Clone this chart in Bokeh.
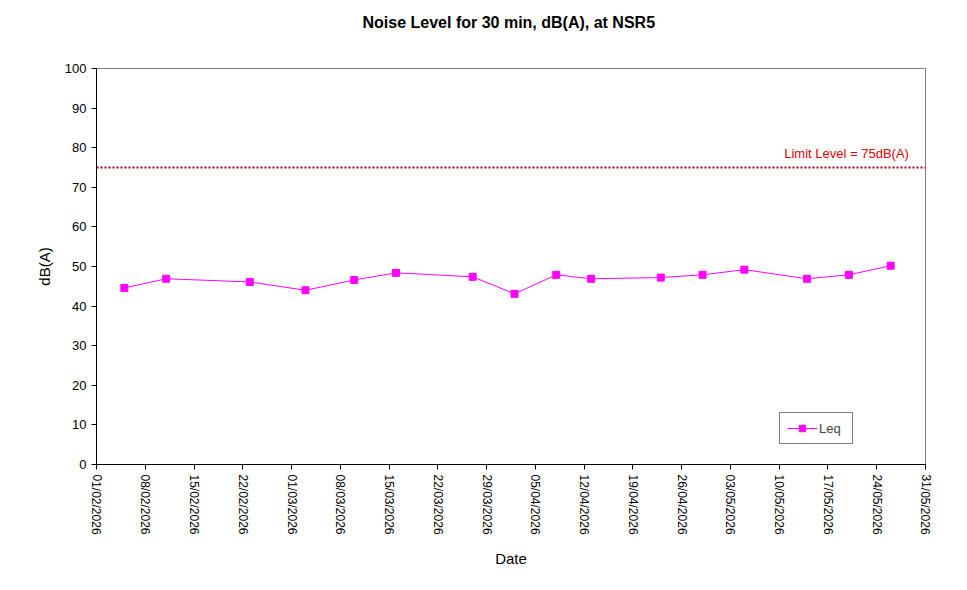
import datetime as dt
from bokeh.plotting import figure
from bokeh.models import (FixedTicker, DatetimeTickFormatter, Span, Label,
                          Legend, LegendItem, Range1d, Title)
from bokeh.embed import file_html
from bokeh.resources import INLINE

# ---- data ----
dates = ["2026-02-05", "2026-02-11", "2026-02-23", "2026-03-03", "2026-03-10",
         "2026-03-16", "2026-03-27", "2026-04-02", "2026-04-08", "2026-04-13",
         "2026-04-23", "2026-04-29", "2026-05-05", "2026-05-14", "2026-05-20",
         "2026-05-26"]
leq = [44.6, 46.9, 46.1, 44.0, 46.6, 48.4, 47.4, 43.1, 47.9, 46.9,
       47.2, 47.9, 49.2, 46.9, 47.9, 50.2]
limit_level = 75
x_start = "2026-02-01"
x_end = "2026-05-31"
tick_step_days = 7
y_ticks = [0, 10, 20, 30, 40, 50, 60, 70, 80, 90, 100]
title_text = "Noise Level for 30 min,  dB(A), at NSR5"

FONT = "Liberation Sans"

def to_dt(s):
    return dt.datetime.strptime(s, "%Y-%m-%d")

xs = [to_dt(d) for d in dates]
x0, x1 = to_dt(x_start), to_dt(x_end)
epoch = dt.datetime(1970, 1, 1)
def ms(d):
    return (d - epoch).total_seconds() * 1000.0

tick_ms = []
d = x0
while d <= x1:
    tick_ms.append(ms(d))
    d += dt.timedelta(days=tick_step_days)

FW, FH = 829, 396
p = figure(width=959, height=582, x_axis_type="datetime",
           output_backend="svg", toolbar_location=None,
           min_border_left=96, min_border_right=34,
           min_border_top=68, min_border_bottom=118)
p.frame_width = FW
p.frame_height = FH
p.x_range = Range1d(ms(x0), ms(x1))
p.y_range = Range1d(0, 100)

# spacer (nearest the frame) then the real title above it
p.add_layout(Title(text=" ", text_font_size="1px", standoff=35,
                   text_color="white"), "above")
p.add_layout(Title(text=title_text, align="center", text_font=FONT,
                   text_font_size="16px", text_font_style="bold",
                   text_color="black", standoff=0, offset=0), "above")

p.xgrid.visible = False
p.ygrid.visible = False
p.outline_line_color = "#808080"
p.outline_line_width = 1
p.background_fill_color = "white"
p.border_fill_color = "white"

xa = p.xaxis[0]
xa.ticker = FixedTicker(ticks=tick_ms)
xa.formatter = DatetimeTickFormatter(days="%d/%m/%Y", months="%d/%m/%Y",
                                     hours="%d/%m/%Y", years="%d/%m/%Y")
xa.major_label_orientation = -1.5708
xa.major_label_text_font = FONT
xa.major_label_text_font_size = "12px"
xa.major_label_text_color = "black"
xa.major_tick_out = 5
xa.major_tick_in = 0
xa.minor_tick_line_color = None
xa.axis_line_color = "black"
xa.major_tick_line_color = "black"
xa.axis_label = "Date"
xa.axis_label_text_font = FONT
xa.axis_label_text_font_size = "15px"
xa.axis_label_text_font_style = "normal"
xa.axis_label_text_color = "black"
xa.axis_label_standoff = 12

ya = p.yaxis[0]
ya.ticker = FixedTicker(ticks=y_ticks)
ya.major_label_text_font = FONT
ya.major_label_text_font_size = "13px"
ya.major_label_text_color = "black"
ya.major_tick_out = 5
ya.major_tick_in = 0
ya.minor_tick_line_color = None
ya.axis_line_color = "black"
ya.major_tick_line_color = "black"
ya.axis_label = "dB(A)"
ya.axis_label_text_font = FONT
ya.axis_label_text_font_size = "15px"
ya.axis_label_text_font_style = "normal"
ya.axis_label_text_color = "black"
ya.axis_label_standoff = 9

# limit line
p.add_layout(Span(location=limit_level, dimension="width",
                  line_color="#A00000", line_width=2, line_dash="2 2"))
p.add_layout(Label(x=ms(x1), y=limit_level, x_offset=-13, y_offset=7,
                   text=f"Limit Level  = {limit_level}dB(A)",
                   text_align="right", text_font=FONT, text_font_size="13px",
                   text_color="#E00000"))

r_line = p.line(xs, leq, line_color="#FF00FF", line_width=1)
r_pts = p.scatter(xs, leq, marker="square", size=7,
                  fill_color="#FF00FF", line_color="#FF00FF")

legend = Legend(items=[LegendItem(label="Leq", renderers=[r_line, r_pts])],
                location=(683, 20), orientation="vertical",
                label_text_font=FONT, label_text_font_size="13px",
                border_line_color="black", border_line_width=1,
                glyph_width=30, glyph_height=16, padding=7, spacing=0,
                margin=0, label_standoff=2, label_width=26,
                background_fill_alpha=1)
p.add_layout(legend, "center")

open("out.html", "w").write(file_html(p, INLINE))
